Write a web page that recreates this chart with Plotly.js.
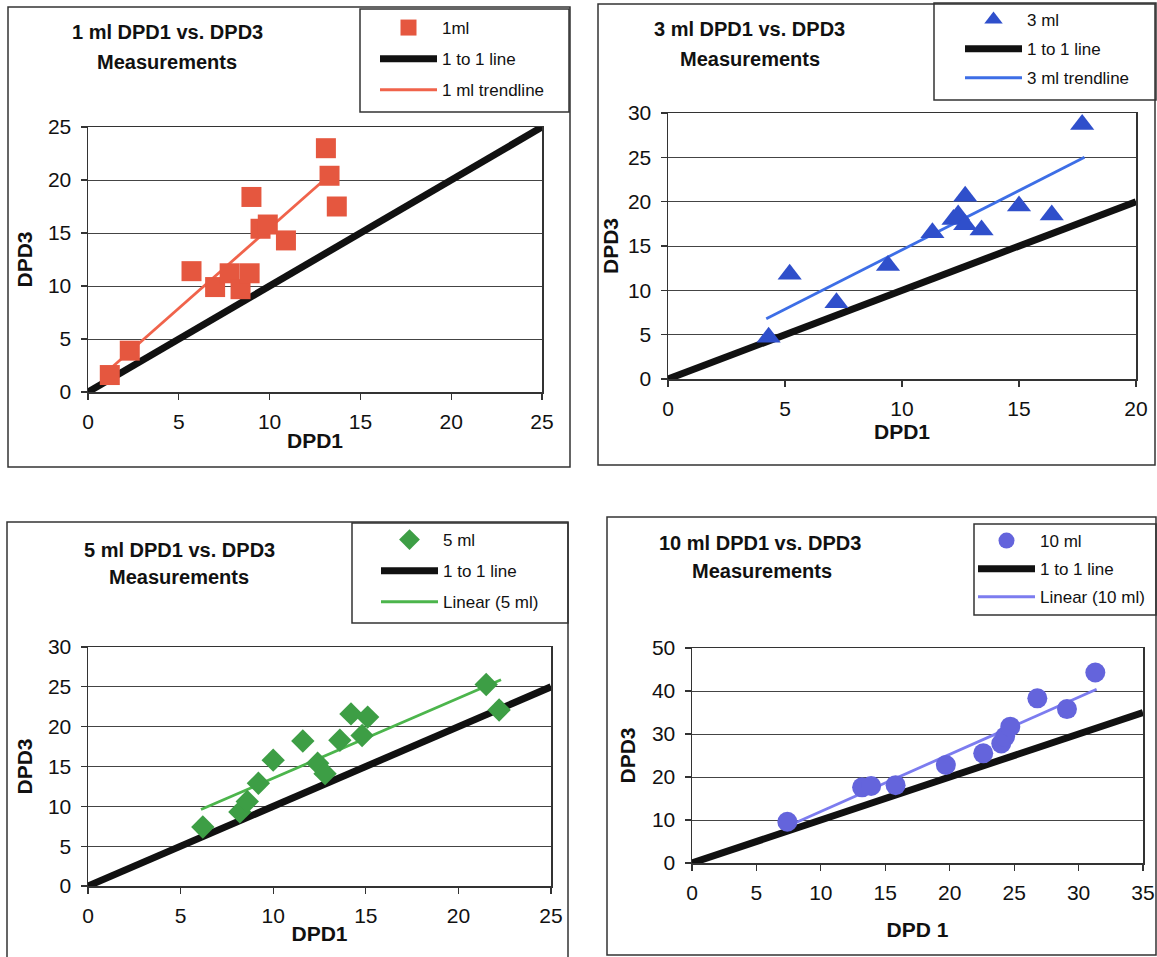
<!DOCTYPE html>
<html><head><meta charset="utf-8">
<script src="https://cdn.plot.ly/plotly-3.0.1.min.js"></script>
<style>html,body{margin:0;padding:0;background:#fff}#chart{width:1157px;height:957px}</style>
</head><body><div id="chart"></div>
<script>
// ---------- data ----------
const ml1_x = [1.2, 2.3, 5.7, 7.0, 7.8, 8.4, 8.9, 9.0, 9.5, 9.9, 10.9, 13.1, 13.3, 13.7];
const ml1_y = [1.6, 3.9, 11.4, 9.9, 11.2, 9.7, 11.2, 18.4, 15.4, 15.8, 14.3, 23.0, 20.4, 17.5];
const ml1_trend_x = [1.1, 13.2];
const ml1_trend_y = [2.0, 20.3];
const one1 = [0, 25];

const ml3_x = [4.3, 5.2, 7.2, 9.4, 11.3, 12.2, 12.4, 12.7, 12.7, 13.4, 15.0, 16.4, 17.7];
const ml3_y = [4.7, 11.8, 8.6, 12.8, 16.5, 18.0, 18.5, 20.6, 17.4, 16.8, 19.5, 18.5, 28.7];
const ml3_trend_x = [4.2, 17.8];
const ml3_trend_y = [6.8, 25.0];
const one3 = [0, 20];

const ml5_x = [6.2, 8.2, 8.6, 9.2, 10.0, 11.6, 12.4, 12.8, 13.6, 14.2, 14.8, 15.1, 21.5, 22.2];
const ml5_y = [7.4, 9.3, 10.6, 12.9, 15.8, 18.2, 15.4, 14.1, 18.3, 21.6, 18.9, 21.2, 25.3, 22.1];
const ml5_trend_x = [6.1, 22.3];
const ml5_trend_y = [9.6, 25.9];
const one5 = [0, 25];

const ml10_x = [7.4, 13.2, 13.9, 15.8, 19.7, 22.6, 24.0, 24.3, 24.7, 26.8, 29.1, 31.3];
const ml10_y = [9.6, 17.6, 17.9, 18.1, 22.8, 25.5, 27.8, 29.4, 31.7, 38.3, 35.8, 44.3];
const ml10_trend_x = [7.9, 31.4];
const ml10_trend_y = [9.2, 40.4];
const one10 = [0, 35];

const titles = [["1 ml DPD1 vs. DPD3", "Measurements"], ["3 ml DPD1 vs. DPD3", "Measurements"],
                ["5 ml DPD1 vs. DPD3", "Measurements"], ["10 ml DPD1 vs. DPD3", "Measurements"]];
const xTitles = ["DPD1", "DPD1", "DPD1", "DPD 1"];
const yTitles = ["DPD3", "DPD3", "DPD3", "DPD3"];
const legendNames = [["1ml", "1 to 1 line", "1 ml trendline"],
                     ["3 ml", "1 to 1 line", "3 ml trendline"],
                     ["5 ml", "1 to 1 line", "Linear (5 ml)"],
                     ["10 ml", "1 to 1 line", "Linear (10 ml)"]];

// ---------- layout helpers ----------
const W = 1157, H = 957;
const px = v => v / W, py = v => 1 - v / H;
const FONT = 'Arial, "Liberation Sans", sans-serif';

function xAxis(l, r, anchor, range, dtick, title, standoff) {
  return {domain: [px(l), px(r)], range: range, anchor: anchor, dtick: dtick, tick0: 0,
    showgrid: false, zeroline: false, showline: true, linecolor: '#333', linewidth: 1.5, mirror: true,
    ticks: 'outside', ticklen: 6, tickcolor: '#333', tickwidth: 1.2, ticklabelstandoff: 4,
    tickfont: {family: FONT, size: 21, color: '#111'},
    title: {text: '<b>' + title + '</b>', font: {family: FONT, size: 21, color: '#111'}, standoff: standoff},
    fixedrange: true};
}
function yAxis(t, b, anchor, range, dtick, title, standoff) {
  return {domain: [py(b), py(t)], range: range, anchor: anchor, dtick: dtick, tick0: 0,
    showgrid: true, gridcolor: '#444', gridwidth: 1, zeroline: false, showline: true, linecolor: '#333',
    linewidth: 1.5, mirror: true, ticks: 'outside', ticklen: 6, tickcolor: '#333', tickwidth: 1.2,
    ticklabelstandoff: 5,
    tickfont: {family: FONT, size: 21, color: '#111'},
    title: {text: '<b>' + title + '</b>', font: {family: FONT, size: 21, color: '#111'}, standoff: standoff},
    fixedrange: true};
}

function panelTraces(k, xs, ys, tx, ty, one, sym, size, mcol, tcol) {
  const xa = k === 1 ? 'x' : 'x' + k, ya = k === 1 ? 'y' : 'y' + k;
  const lg = k === 1 ? 'legend' : 'legend' + k;
  const n = legendNames[k - 1];
  return [
    {type: 'scatter', mode: 'lines', x: one, y: one, xaxis: xa, yaxis: ya, legend: lg,
     name: n[1], legendgroup: 'b' + k, legendrank: 2, line: {color: '#111', width: 7}, hoverinfo: 'skip'},
    {type: 'scatter', mode: 'lines', x: tx, y: ty, xaxis: xa, yaxis: ya, legend: lg,
     name: n[2], legendgroup: 'c' + k, legendrank: 3, line: {color: tcol, width: 2.8}, hoverinfo: 'skip'},
    {type: 'scatter', mode: 'markers', x: xs, y: ys, xaxis: xa, yaxis: ya, legend: lg,
     name: n[0], legendgroup: 'a' + k, legendrank: 1, cliponaxis: false,
     marker: {symbol: sym, size: size, color: mcol, line: {width: 0}}}
  ];
}

const data = [].concat(
  panelTraces(1, ml1_x, ml1_y, ml1_trend_x, ml1_trend_y, one1, 'square', 20, '#E5573F', '#F0634B'),
  panelTraces(2, ml3_x, ml3_y, ml3_trend_x, ml3_trend_y, one3, 'triangle-up', 21, '#2F4FCB', '#3D6EE6'),
  panelTraces(3, ml5_x, ml5_y, ml5_trend_x, ml5_trend_y, one5, 'diamond', 18, '#3D9E45', '#4CB54C'),
  panelTraces(4, ml10_x, ml10_y, ml10_trend_x, ml10_trend_y, one10, 'circle', 20, '#6464DC', '#7C7CEF')
);

function legend(l, t, gap) {
  return {x: px(l), y: py(t), xanchor: 'left', yanchor: 'top', bgcolor: 'rgba(0,0,0,0)', borderwidth: 0,
    font: {family: FONT, size: 17, color: '#111'}, tracegroupgap: gap, itemwidth: 57, traceorder: 'grouped'};
}

function rect(l, t, r, b) {
  return {type: 'rect', xref: 'paper', yref: 'paper', x0: px(l), x1: px(r), y0: py(b), y1: py(t),
    line: {color: '#333', width: 1.5}, fillcolor: 'rgba(0,0,0,0)', layer: 'below'};
}
function title(cx, cy, text) {
  return {xref: 'paper', yref: 'paper', x: px(cx), y: py(cy), xanchor: 'center', yanchor: 'middle',
    showarrow: false, text: '<b>' + text + '</b>', font: {family: FONT, size: 20, color: '#111'}};
}

const layout = {
  width: W, height: H, margin: {l: 0, r: 0, t: 0, b: 0}, paper_bgcolor: '#fff', plot_bgcolor: '#fff',
  showlegend: true,
  xaxis: xAxis(88, 542, 'y', [0, 25], 5, xTitles[0], 1),
  yaxis: yAxis(127, 392, 'x', [0, 25], 5, yTitles[0], 9),
  xaxis2: xAxis(668, 1136, 'y2', [0, 20], 5, xTitles[1], 5),
  yaxis2: yAxis(113, 379, 'x2', [0, 30], 5, yTitles[1], 3),
  xaxis3: xAxis(88, 551, 'y3', [0, 25], 5, xTitles[2], 0),
  yaxis3: yAxis(647, 886, 'x3', [0, 30], 5, yTitles[2], 9),
  xaxis4: xAxis(692, 1143, 'y4', [0, 35], 5, xTitles[3], 19),
  yaxis4: yAxis(648, 863, 'x4', [0, 50], 10, yTitles[3], 10),
  legend: legend(375, 10, 6),
  legend2: legend(960, 2, 4),
  legend3: legend(376, 522, 6),
  legend4: legend(973, 523, 3),
  shapes: [
    rect(8, 7, 570, 467), rect(360, 9, 569, 112),
    rect(598, 4, 1155, 465), rect(934, 3, 1156, 100),
    rect(7, 522, 568, 962), rect(352, 523, 568, 623),
    rect(607, 517, 1156, 955), rect(974, 524, 1156, 615)
  ],
  annotations: [
    title(167, 32, titles[0][0]), title(167, 62, titles[0][1]),
    title(749, 29, titles[1][0]), title(750, 59, titles[1][1]),
    title(179, 550, titles[2][0]), title(179, 577, titles[2][1]),
    title(760, 543, titles[3][0]), title(762, 571, titles[3][1])
  ]
};

Plotly.newPlot('chart', data, layout, {staticPlot: true, displayModeBar: false});
</script>
</body></html>
